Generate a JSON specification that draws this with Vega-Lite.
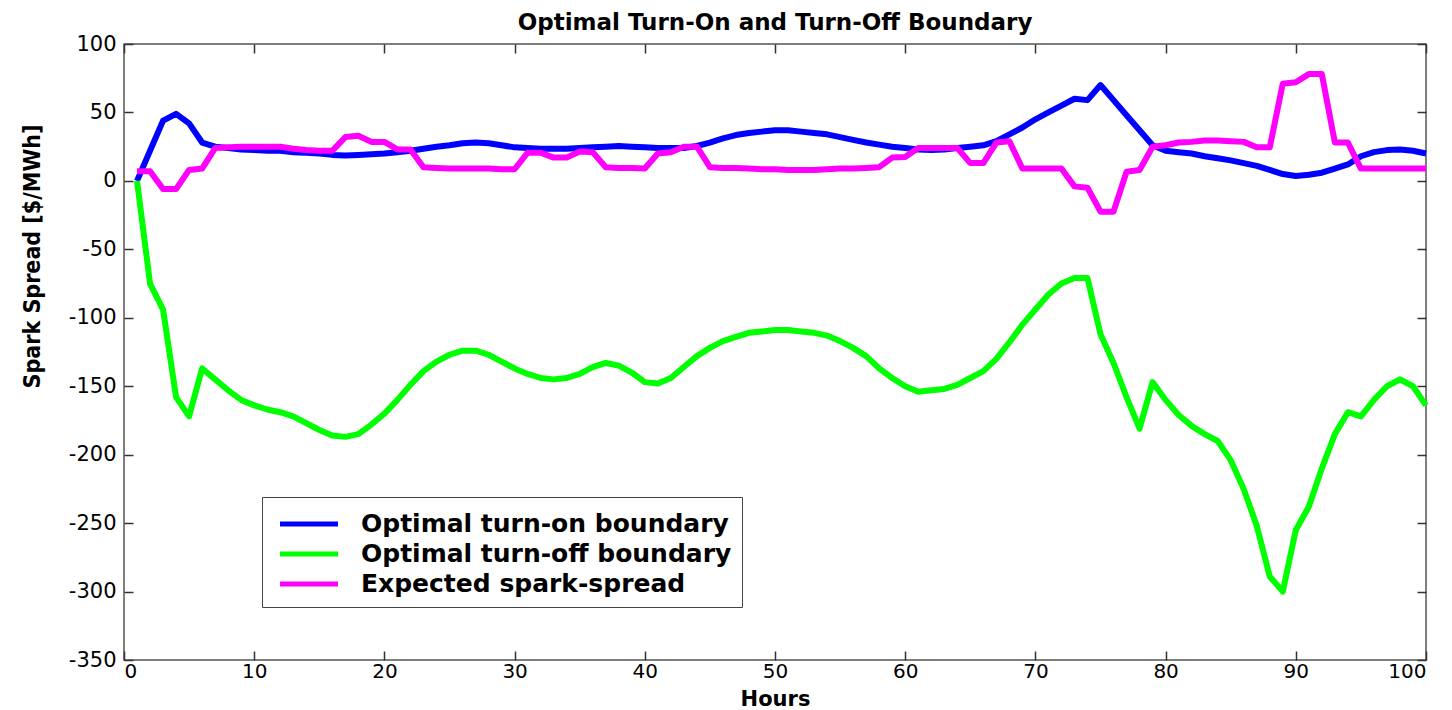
{
  "$schema": "https://vega.github.io/schema/vega-lite/v6.json",
  "width": 1302,
  "height": 616,
  "autosize": {"type": "none"},
  "padding": {"left": 124, "top": 44, "right": 26, "bottom": 50},
  "background": "white",
  "config": {
    "view": {"stroke": "#555", "strokeWidth": 1.5},
    "font": "DejaVu Sans"
  },
  "title": {
    "text": "Optimal Turn-On and Turn-Off Boundary",
    "font": "DejaVu Sans",
    "fontSize": 23,
    "fontWeight": "bold",
    "anchor": "middle",
    "offset": -2,
    "color": "#000"
  },
  "data": {
    "values": [
      {"Hours":1,"on":0,"off":0,"exp":7},
      {"Hours":2,"on":22,"off":-75,"exp":7},
      {"Hours":3,"on":44,"off":-94,"exp":-6},
      {"Hours":4,"on":49,"off":-158,"exp":-6},
      {"Hours":5,"on":42,"off":-172,"exp":8},
      {"Hours":6,"on":28,"off":-137,"exp":9},
      {"Hours":7,"on":25,"off":-145,"exp":24},
      {"Hours":8,"on":24,"off":-153,"exp":24.5},
      {"Hours":9,"on":23,"off":-160,"exp":25},
      {"Hours":10,"on":22.5,"off":-164,"exp":25},
      {"Hours":11,"on":22,"off":-167,"exp":25},
      {"Hours":12,"on":22,"off":-169,"exp":25},
      {"Hours":13,"on":21,"off":-172,"exp":23.5},
      {"Hours":14,"on":20.5,"off":-177,"exp":22.5},
      {"Hours":15,"on":20,"off":-182,"exp":22},
      {"Hours":16,"on":19,"off":-186,"exp":22},
      {"Hours":17,"on":18.5,"off":-187,"exp":32},
      {"Hours":18,"on":19,"off":-185,"exp":33},
      {"Hours":19,"on":19.5,"off":-178,"exp":28.5},
      {"Hours":20,"on":20,"off":-170,"exp":28.5},
      {"Hours":21,"on":21,"off":-160,"exp":23},
      {"Hours":22,"on":22,"off":-149,"exp":23},
      {"Hours":23,"on":23.5,"off":-139,"exp":10},
      {"Hours":24,"on":25,"off":-132,"exp":9.5},
      {"Hours":25,"on":26,"off":-127,"exp":9},
      {"Hours":26,"on":27.5,"off":-124,"exp":9},
      {"Hours":27,"on":28,"off":-124,"exp":9},
      {"Hours":28,"on":27.5,"off":-127,"exp":9},
      {"Hours":29,"on":26,"off":-132,"exp":8.5},
      {"Hours":30,"on":24.5,"off":-137,"exp":8.5},
      {"Hours":31,"on":24,"off":-141,"exp":20.6},
      {"Hours":32,"on":23.5,"off":-144,"exp":20.6},
      {"Hours":33,"on":23.5,"off":-145,"exp":17},
      {"Hours":34,"on":23.5,"off":-144,"exp":17},
      {"Hours":35,"on":24,"off":-141,"exp":21.4},
      {"Hours":36,"on":24.5,"off":-136,"exp":21},
      {"Hours":37,"on":25,"off":-133,"exp":10},
      {"Hours":38,"on":25.5,"off":-135,"exp":9.5},
      {"Hours":39,"on":25,"off":-140,"exp":9.5},
      {"Hours":40,"on":24.5,"off":-147,"exp":9},
      {"Hours":41,"on":24,"off":-148,"exp":20},
      {"Hours":42,"on":24,"off":-144,"exp":21},
      {"Hours":43,"on":24,"off":-136,"exp":25},
      {"Hours":44,"on":25.5,"off":-128,"exp":25},
      {"Hours":45,"on":28,"off":-122,"exp":10},
      {"Hours":46,"on":31,"off":-117,"exp":9.5},
      {"Hours":47,"on":33.5,"off":-114,"exp":9.5},
      {"Hours":48,"on":35,"off":-111,"exp":9},
      {"Hours":49,"on":36,"off":-110,"exp":8.5},
      {"Hours":50,"on":37,"off":-109,"exp":8.5},
      {"Hours":51,"on":37,"off":-109,"exp":8},
      {"Hours":52,"on":36,"off":-110,"exp":8},
      {"Hours":53,"on":35,"off":-111,"exp":8},
      {"Hours":54,"on":34,"off":-113,"exp":8.5},
      {"Hours":55,"on":32,"off":-117,"exp":9},
      {"Hours":56,"on":30,"off":-122,"exp":9},
      {"Hours":57,"on":28,"off":-128,"exp":9.5},
      {"Hours":58,"on":26.5,"off":-137,"exp":10},
      {"Hours":59,"on":25,"off":-144,"exp":17},
      {"Hours":60,"on":24,"off":-150,"exp":17.5},
      {"Hours":61,"on":23,"off":-154,"exp":24},
      {"Hours":62,"on":22.5,"off":-153,"exp":24},
      {"Hours":63,"on":23,"off":-152,"exp":24},
      {"Hours":64,"on":24,"off":-149,"exp":24},
      {"Hours":65,"on":25,"off":-144,"exp":13},
      {"Hours":66,"on":26,"off":-139,"exp":13},
      {"Hours":67,"on":29,"off":-130,"exp":28},
      {"Hours":68,"on":34,"off":-118,"exp":29},
      {"Hours":69,"on":39,"off":-105,"exp":9},
      {"Hours":70,"on":45,"off":-94,"exp":9},
      {"Hours":71,"on":50,"off":-83,"exp":9},
      {"Hours":72,"on":55,"off":-75,"exp":9},
      {"Hours":73,"on":60,"off":-71,"exp":-4},
      {"Hours":74,"on":59,"off":-71,"exp":-5},
      {"Hours":75,"on":70,"off":-112,"exp":-22.5},
      {"Hours":76,"on":59,"off":-133,"exp":-22.5},
      {"Hours":77,"on":48,"off":-158,"exp":6.7},
      {"Hours":78,"on":37,"off":-181,"exp":8},
      {"Hours":79,"on":26,"off":-147,"exp":25},
      {"Hours":80,"on":22,"off":-160,"exp":26},
      {"Hours":81,"on":21,"off":-171,"exp":28},
      {"Hours":82,"on":20,"off":-179,"exp":28.5},
      {"Hours":83,"on":18,"off":-185,"exp":29.5},
      {"Hours":84,"on":16.5,"off":-190,"exp":29.5},
      {"Hours":85,"on":15,"off":-204,"exp":29},
      {"Hours":86,"on":13,"off":-225,"exp":28.5},
      {"Hours":87,"on":11,"off":-252,"exp":24.5},
      {"Hours":88,"on":8,"off":-289,"exp":24.5},
      {"Hours":89,"on":5,"off":-300,"exp":71},
      {"Hours":90,"on":3.6,"off":-255,"exp":72},
      {"Hours":91,"on":4.5,"off":-238,"exp":78},
      {"Hours":92,"on":6,"off":-210,"exp":78},
      {"Hours":93,"on":9,"off":-185,"exp":28},
      {"Hours":94,"on":12,"off":-169,"exp":28},
      {"Hours":95,"on":18,"off":-172,"exp":9},
      {"Hours":96,"on":21,"off":-160,"exp":9},
      {"Hours":97,"on":22.5,"off":-150,"exp":9},
      {"Hours":98,"on":23,"off":-145,"exp":9},
      {"Hours":99,"on":22,"off":-150,"exp":9},
      {"Hours":100,"on":20,"off":-164,"exp":9}
    ]
  },
  "transform": [
    {"fold": ["on", "off", "exp"], "as": ["series", "value"]}
  ],
  "resolve": {"axis": {"x": "independent", "y": "independent"}},
  "layer": [
    {
      "mark": {"type": "line", "strokeWidth": 6, "strokeJoin": "round", "strokeCap": "butt"},
      "encoding": {
        "x": {
          "field": "Hours", "type": "quantitative",
          "scale": {"domain": [0, 100], "nice": false, "zero": false},
          "axis": {
            "title": "Hours", "values": [0,10,20,30,40,50,60,70,80,90,100],
            "labelExpr": "toString(datum.value)",
            "grid": false, "domain": false, "tickSize": -9, "tickColor": "#333", "tickWidth": 1.5,
            "labelPadding": 10, "labelFontSize": 20, "labelFont": "DejaVu Sans", "labelColor": "#000",
            "titleFontSize": 21, "titleFont": "DejaVu Sans", "titleFontWeight": "bold", "titleColor": "#000",
            "titleY": 39, "titleBaseline": "middle"
          }
        },
        "y": {
          "field": "value", "type": "quantitative",
          "scale": {"domain": [-350, 100], "nice": false, "zero": false},
          "axis": {
            "title": "Spark Spread [$/MWh]", "values": [-350,-300,-250,-200,-150,-100,-50,0,50,100],
            "labelExpr": "toString(datum.value)",
            "grid": false, "domain": false, "tickSize": -9, "tickColor": "#333", "tickWidth": 1.5,
            "labelPadding": 17, "labelFontSize": 21, "labelFont": "DejaVu Sans", "labelColor": "#000",
            "titleFontSize": 23, "titleFont": "DejaVu Sans Condensed", "titleFontWeight": "bold", "titleColor": "#000",
            "titleX": -92, "titleY": 212, "titleAngle": -90, "titleAlign": "center", "titleBaseline": "middle"
          }
        },
        "color": {
          "field": "series", "type": "nominal",
          "scale": {"domain": ["on", "off", "exp"], "range": ["#0000FF", "#00FF00", "#FF00FF"]},
          "legend": {
            "title": null, "orient": "none", "legendX": 138, "legendY": 453,
            "labelExpr": "datum.value == 'on' ? 'Optimal turn-on boundary' : datum.value == 'off' ? 'Optimal turn-off boundary' : 'Expected spark-spread'",
            "symbolType": "M-2,0L2,0", "symbolSize": 841, "symbolStrokeWidth": 5, "symbolOffset": 20,
            "labelFontSize": 25, "labelFont": "DejaVu Sans", "labelFontWeight": "bold", "labelColor": "#000", "labelOffset": 35,
            "labelLimit": 600,
            "rowPadding": -18, "strokeColor": "#444", "fillColor": "white", "padding": 10
          }
        }
      }
    },
    {
      "mark": {"type": "rule", "opacity": 0},
      "encoding": {
        "x": {
          "datum": 0, "type": "quantitative",
          "axis": {"orient": "top", "values": [0,10,20,30,40,50,60,70,80,90,100], "labels": false, "title": null,
                   "grid": false, "domain": false, "tickSize": -9, "tickColor": "#333", "tickWidth": 1.5}
        },
        "y": {
          "datum": 0, "type": "quantitative",
          "axis": {"orient": "right", "values": [-350,-300,-250,-200,-150,-100,-50,0,50,100], "labels": false, "title": null,
                   "grid": false, "domain": false, "tickSize": -9, "tickColor": "#333", "tickWidth": 1.5}
        }
      }
    }
  ]
}
